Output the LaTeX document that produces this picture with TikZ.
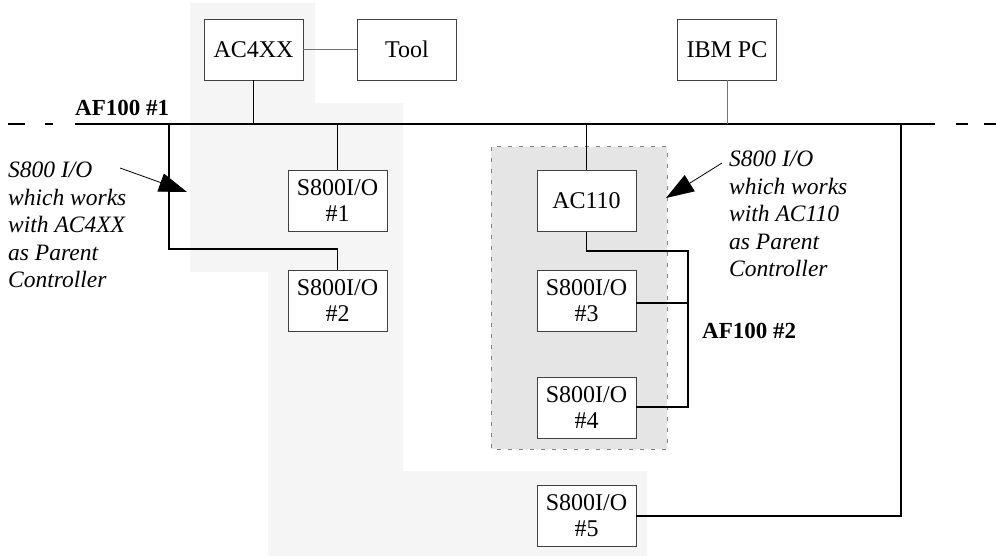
\documentclass[tikz,border=0pt]{standalone}
\usepackage{fontspec}
\setmainfont{Liberation Serif}
\usetikzlibrary{arrows.meta}
\definecolor{shadeA}{gray}{0.962}
\definecolor{shadeB}{gray}{0.898}
\begin{document}
\begin{tikzpicture}[x=1pt,y=-1pt,
  unit/.style={draw=black!75, line width=0.9pt, fill=white, minimum width=99pt, minimum height=61pt, inner sep=0pt, align=center, font=\fontsize{24}{26}\selectfont},
  wire/.style={line width=1.8pt},
  thinwire/.style={draw=black!55, line width=1pt},
  note/.style={font=\fontsize{23.5}{27.5}\selectfont\itshape, align=left, inner sep=0pt, anchor=north west},
  busname/.style={font=\fontsize{23}{26}\selectfont\bfseries, inner sep=0pt, anchor=base west},
  pointer/.style={line width=0.8pt, -{Triangle[length=28pt,width=19pt]}}
]
\useasboundingbox (0,0) rectangle (996,556);
% shaded areas
\fill[shadeA] (190,3) -- (315,3) -- (315,103) -- (403,103) -- (403,471) -- (647,471) -- (647,556) -- (268,556) -- (268,272) -- (190,272) -- cycle;
\draw[fill=shadeB, draw=black!50, line width=1pt, dash pattern=on 4pt off 7pt] (491,147) rectangle (667,449);

% units
\node[unit] (ac4) at (253.5,49.5) {AC4XX};
\node[unit] (tool) at (407,49.5) {Tool};
\node[unit] (ibm) at (727,49.5) {IBM PC};
\node[unit] (s1) at (337.5,201) {S800I/O\\\#1};
\node[unit] (s2) at (337.5,300.5) {S800I/O\\\#2};
\node[unit] (ac110) at (586.5,201) {AC110};
\node[unit] (s3) at (586.5,300.5) {S800I/O\\\#3};
\node[unit] (s4) at (586.5,408) {S800I/O\\\#4};
\node[unit] (s5) at (586.5,516) {S800I/O\\\#5};

% AF100 #1 bus
\coordinate (busL) at (75,124);
\coordinate (busR) at (935,124);
\draw[wire] (busL) -- (busR);
\draw[wire] (8,124) -- (25,124);
\draw[wire] (45,124) -- (53,124);
\draw[wire] (956,124) -- (968,124);
\draw[wire] (984,124) -- (996,124);
\node[busname] (bus1) at (75,116) {AF100 \#1};

% connections to bus
\draw[wire] (ac4.south) -- (ac4.south |- busL);
\draw[thinwire] (ac4.east) -- (tool.west);
\draw[thinwire] (ibm.south) -- (ibm.south |- busL);
\draw[wire] (s1.north) -- (s1.north |- busL);
\draw[wire] (ac110.north) -- (ac110.north |- busL);
\coordinate (lp) at (169,124);
\coordinate (rp) at (901,124);
\draw[wire] (lp) -- (169,249) -| (s2.north);
\draw[wire] (s5.east) -| (rp);

% AF100 #2
\coordinate (b2) at (688,251);
\coordinate (s3p) at ([yshift=-2.5pt]s3.east);
\coordinate (s4p) at ([yshift=1pt]s4.east);
\draw[wire] (ac110.south) |- (b2) -- (b2 |- s4p) -- (s4p);
\draw[wire] (s3p) -- (s3p -| b2);
\node[busname] (bus2) at (702,338) {AF100 \#2};

% notes
\node[note] (n1) at (8,162) {S800 I/O\\which works\\with AC4XX\\as Parent\\Controller};
\node[note] (n2) at (729,151) {S800 I/O\\which works\\with AC110\\as Parent\\Controller};
\coordinate (lA) at (120,168);
\coordinate (lT) at (187,192);
\draw[pointer] (lA) -- (lT);
\coordinate (rA) at (722,163);
\coordinate (rT) at (666,198);
\draw[pointer] (rA) -- (rT);
\end{tikzpicture}
\end{document}
